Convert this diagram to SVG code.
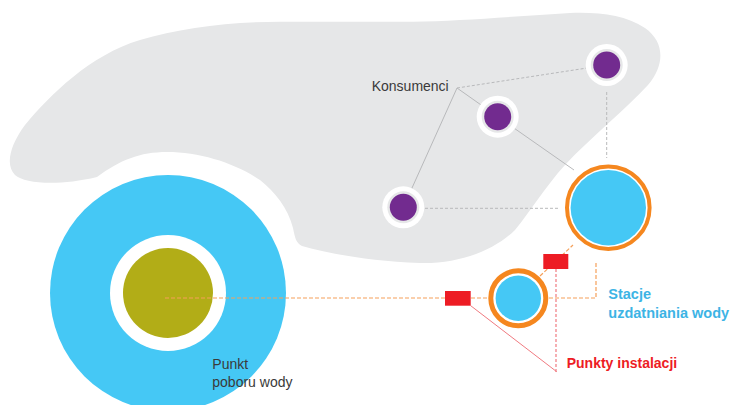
<svg xmlns="http://www.w3.org/2000/svg" width="732" height="405" viewBox="0 0 732 405">
<style>
.txt{font-family:"Liberation Sans",Arial,sans-serif;font-size:14px;fill:#3a3a3a}
.bold{font-weight:bold}
.gl{stroke:#b8b9bb;stroke-width:1;fill:none}
.gd{stroke:#b8b9bb;stroke-width:1;fill:none;stroke-dasharray:3 2}
.od{stroke:#f5a05a;stroke-width:1.2;fill:none;stroke-dasharray:4 2}
.rl{stroke:#f07a80;stroke-width:1;fill:none}
.rd{stroke:#f07a80;stroke-width:1.2;fill:none;stroke-dasharray:3 2}
.wh{fill:#ffffff}
.ring{fill:#e6e7e8}
.pur{fill:#722b8f}
.blue{fill:#45c8f5}
.orng{fill:#ffffff;stroke:#f5871f}
.red{fill:#ed1c24}
</style>
<g id="area">
<path d="M 97 177 C 120 160, 140 152, 167 152 C 200 152, 235 163, 260 180 C 275 192, 288 208, 293 228 C 295 238, 296 243, 302 246 C 330 254, 370 261, 420 263 C 460 264, 495 250, 515 230 C 530 212, 545 187, 565 165 C 590 138, 625 110, 648 85 C 665 65, 665 42, 645 28 C 625 15, 600 12, 570 13 C 520 16, 460 21, 413 21.7 L 280 21.7 C 230 22, 180 28, 140 40 C 90 55, 50 95, 25 125 C 10 145, 5 165, 15 175 C 25 184, 60 186, 97 177 Z" fill="#e6e7e8"/>
</g>
<g id="source">
<circle cx="168" cy="293" r="118" class="blue"/>
<circle cx="168" cy="293" r="58" class="wh"/>
<circle cx="168" cy="293" r="45" fill="#b2ad17"/>
</g>
<g id="connectors">
<line x1="457" y1="88" x2="606.7" y2="65" class="gd"/>
<line x1="457" y1="88" x2="497.7" y2="116.7" class="gl"/>
<line x1="457" y1="88" x2="403.3" y2="207.3" class="gl"/>
<line x1="497.7" y1="116.7" x2="574" y2="170" class="gl"/>
<line x1="606.7" y1="92" x2="606.7" y2="158" class="gd"/>
<line x1="425" y1="208.3" x2="558" y2="208.3" class="gd"/>
<polyline points="165,298 596,298 596,263" class="od"/>
<line x1="540" y1="276" x2="573" y2="245" class="od"/>
<line x1="470.7" y1="305.7" x2="556.7" y2="371.7" class="rl"/>
<line x1="556" y1="269" x2="556" y2="372" class="rd"/>
</g>
<g id="consumer-a">
<circle cx="606.7" cy="65" r="21" class="wh"/>
<circle cx="606.7" cy="65" r="16" class="ring"/>
<circle cx="606.7" cy="65" r="13.5" class="pur"/>
</g>
<g id="consumer-b">
<circle cx="497.7" cy="116.7" r="21" class="wh"/>
<circle cx="497.7" cy="116.7" r="16" class="ring"/>
<circle cx="497.7" cy="116.7" r="13.5" class="pur"/>
</g>
<g id="consumer-c">
<circle cx="403.3" cy="207.3" r="21" class="wh"/>
<circle cx="403.3" cy="207.3" r="16" class="ring"/>
<circle cx="403.3" cy="207.3" r="13.5" class="pur"/>
</g>
<g id="station-big">
<circle cx="608.3" cy="207.7" r="41.3" class="orng" stroke-width="4"/>
<circle cx="608.3" cy="207.7" r="37.7" class="blue"/>
</g>
<g id="station-small">
<circle cx="518.3" cy="298.3" r="27.5" class="orng" stroke-width="5"/>
<circle cx="518.3" cy="298.3" r="22.7" class="blue"/>
</g>
<g id="install-1">
<rect x="445" y="291" width="25.7" height="14.7" class="red"/>
</g>
<g id="install-2">
<rect x="543.3" y="254" width="25" height="15" class="red"/>
</g>
<g id="labels">
<text x="371.7" y="91" class="txt">Konsumenci</text>
<text x="212.3" y="369" class="txt">Punkt</text>
<text x="212.3" y="387" class="txt">poboru wody</text>
<text x="608.3" y="299" class="txt bold" style="fill:#3db4e5;font-size:14.5px">Stacje</text>
<text x="608.3" y="318.3" class="txt bold" style="fill:#3db4e5;font-size:14.5px">uzdatniania wody</text>
<text x="566.7" y="368" class="txt bold" style="fill:#ed1c24">Punkty instalacji</text>
</g>
</svg>
